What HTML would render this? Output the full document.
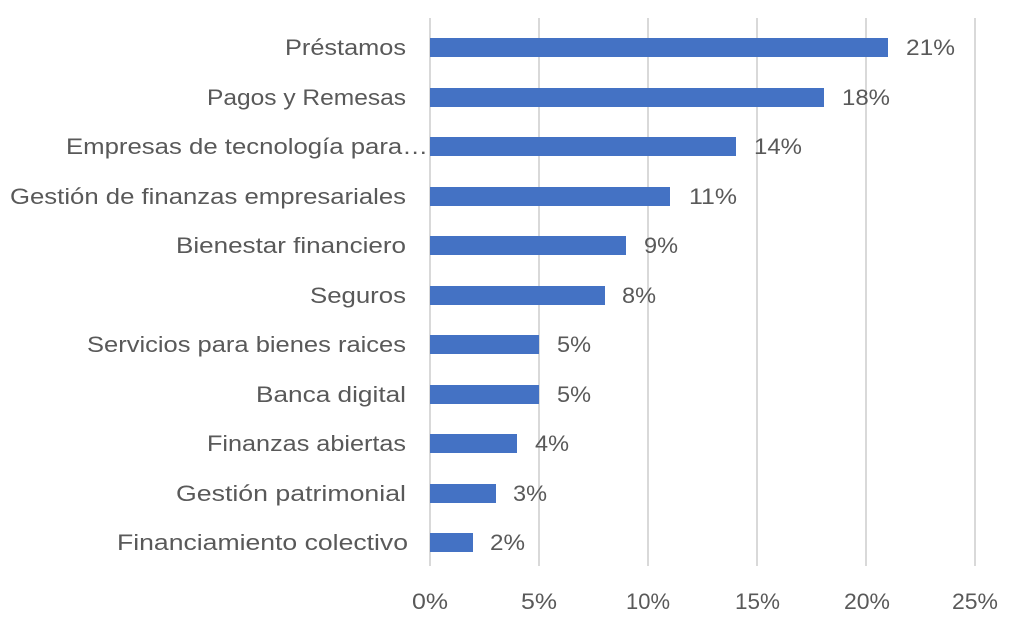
<!DOCTYPE html>
<html><head><meta charset="utf-8"><style>
body{margin:0;background:#fff;}
svg text{font-family:"Liberation Sans",sans-serif;fill:#595959;font-size:22px;}
</style></head><body>
<svg width="1024" height="618" xmlns="http://www.w3.org/2000/svg">
<g stroke="#d9d9d9" stroke-width="2">
<line x1="430" y1="18" x2="430" y2="566"/>
<line x1="539" y1="18" x2="539" y2="566"/>
<line x1="648" y1="18" x2="648" y2="566"/>
<line x1="757" y1="18" x2="757" y2="566"/>
<line x1="866" y1="18" x2="866" y2="566"/>
<line x1="975" y1="18" x2="975" y2="566"/>
</g>
<g fill="#4472c4">
<rect x="430" y="38" width="458" height="19"/>
<rect x="430" y="88" width="394" height="19"/>
<rect x="430" y="137" width="306" height="19"/>
<rect x="430" y="187" width="240" height="19"/>
<rect x="430" y="236" width="196" height="19"/>
<rect x="430" y="286" width="175" height="19"/>
<rect x="430" y="335" width="109" height="19"/>
<rect x="430" y="385" width="109" height="19"/>
<rect x="430" y="434" width="87" height="19"/>
<rect x="430" y="484" width="66" height="19"/>
<rect x="430" y="533" width="43" height="19"/>
</g>
<g lengthAdjust="spacingAndGlyphs">
<text x="285" y="55" textLength="121" lengthAdjust="spacingAndGlyphs">Préstamos</text>
<text x="207" y="105" textLength="199" lengthAdjust="spacingAndGlyphs">Pagos y Remesas</text>
<text x="66" y="154" textLength="362" lengthAdjust="spacingAndGlyphs">Empresas de tecnología para…</text>
<text x="10" y="204" textLength="396" lengthAdjust="spacingAndGlyphs">Gestión de finanzas empresariales</text>
<text x="176" y="253" textLength="230" lengthAdjust="spacingAndGlyphs">Bienestar financiero</text>
<text x="310" y="303" textLength="96" lengthAdjust="spacingAndGlyphs">Seguros</text>
<text x="87" y="352" textLength="319" lengthAdjust="spacingAndGlyphs">Servicios para bienes raices</text>
<text x="256" y="402" textLength="150" lengthAdjust="spacingAndGlyphs">Banca digital</text>
<text x="207" y="451" textLength="199" lengthAdjust="spacingAndGlyphs">Finanzas abiertas</text>
<text x="176" y="501" textLength="230" lengthAdjust="spacingAndGlyphs">Gestión patrimonial</text>
<text x="117" y="550" textLength="291" lengthAdjust="spacingAndGlyphs">Financiamiento colectivo</text>
</g>
<g>
<text x="906" y="55" textLength="49" lengthAdjust="spacingAndGlyphs">21%</text>
<text x="842" y="105" textLength="48" lengthAdjust="spacingAndGlyphs">18%</text>
<text x="754" y="154" textLength="48" lengthAdjust="spacingAndGlyphs">14%</text>
<text x="689" y="204" textLength="48" lengthAdjust="spacingAndGlyphs">11%</text>
<text x="644" y="253" textLength="34" lengthAdjust="spacingAndGlyphs">9%</text>
<text x="622" y="303" textLength="34" lengthAdjust="spacingAndGlyphs">8%</text>
<text x="557" y="352" textLength="34" lengthAdjust="spacingAndGlyphs">5%</text>
<text x="557" y="402" textLength="34" lengthAdjust="spacingAndGlyphs">5%</text>
<text x="535" y="451" textLength="34" lengthAdjust="spacingAndGlyphs">4%</text>
<text x="513" y="501" textLength="34" lengthAdjust="spacingAndGlyphs">3%</text>
<text x="490" y="550" textLength="35" lengthAdjust="spacingAndGlyphs">2%</text>
</g>
<g>
<text x="412" y="609" textLength="36" lengthAdjust="spacingAndGlyphs">0%</text>
<text x="521" y="609" textLength="36" lengthAdjust="spacingAndGlyphs">5%</text>
<text x="626" y="609" textLength="44" lengthAdjust="spacingAndGlyphs">10%</text>
<text x="735" y="609" textLength="45" lengthAdjust="spacingAndGlyphs">15%</text>
<text x="844" y="609" textLength="46" lengthAdjust="spacingAndGlyphs">20%</text>
<text x="952" y="609" textLength="46" lengthAdjust="spacingAndGlyphs">25%</text>
</g>
</svg>
</body></html>
